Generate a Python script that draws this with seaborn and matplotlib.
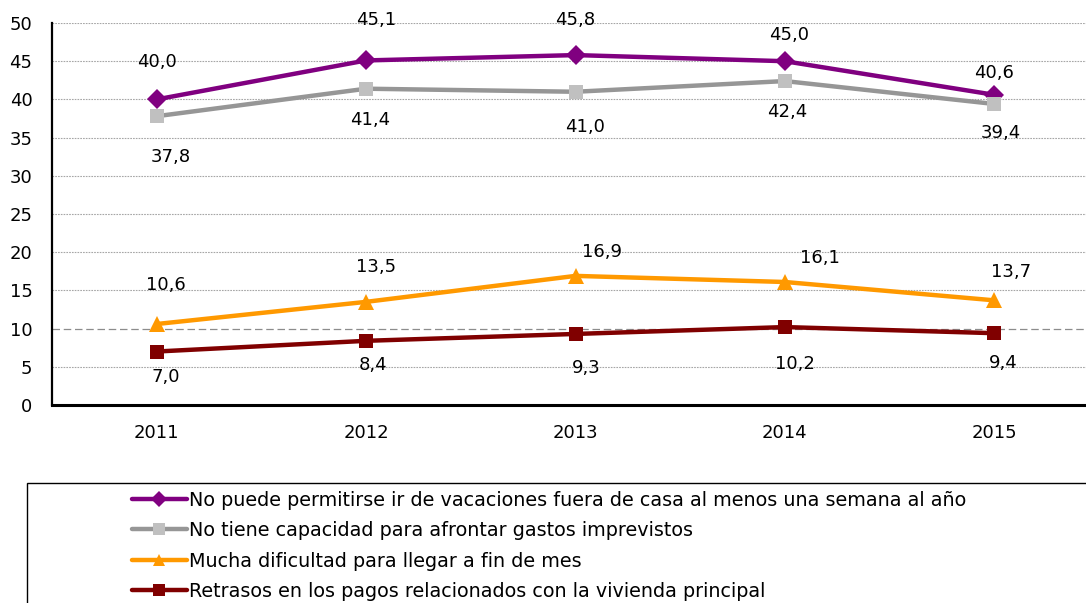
import numpy as np
import pandas as pd
import matplotlib
matplotlib.use("Agg")
import matplotlib.pyplot as plt
import matplotlib.patches as mpatches
import seaborn as sns

# ---- data ----
years = ["2011", "2012", "2013", "2014", "2015"]
vacaciones = [40.0, 45.1, 45.8, 45.0, 40.6]
imprevistos = [37.8, 41.4, 41.0, 42.4, 39.4]
fin_de_mes = [10.6, 13.5, 16.9, 16.1, 13.7]
retrasos = [7.0, 8.4, 9.3, 10.2, 9.4]
labels = [
    "No puede permitirse ir de vacaciones fuera de casa al menos una semana al año",
    "No tiene capacidad para afrontar gastos imprevistos",
    "Mucha dificultad para llegar a fin de mes",
    "Retrasos en los pagos relacionados con la vivienda principal",
]

# ---- style per series (line colour, marker, marker colour, size, label offsets in px) ----
styles = [
    dict(color="#800080", marker="D", mfc="#800080", ms=10,
         offs=[(0, 37), (10, 40), (0, 35), (4, 26), (0, 22)]),
    dict(color="#969696", marker="s", mfc="#C0C0C0", ms=10,
         offs=[(14, -41), (4, -31), (9, -35), (2, -31), (7, -29)]),
    dict(color="#FF9900", marker="^", mfc="#FF9900", ms=11,
         offs=[(9, 39), (10, 35), (27, 24), (35, 24), (17, 28)]),
    dict(color="#800000", marker="s", mfc="#800000", ms=10,
         offs=[(9, -25), (7, -24), (11, -34), (10, -37), (9, -30)]),
]
series = [vacaciones, imprevistos, fin_de_mes, retrasos]

sns.set_style("white")
plt.rcParams["font.family"] = ["DejaVu Sans"]
plt.rcParams["text.color"] = "black"
FS = 13

W, H = 1086, 603
fig = plt.figure(figsize=(W / 100, H / 100), dpi=100)
ax = fig.add_axes([52 / W, 1 - 405 / H, (1099 - 52) / W, (405 - 23) / H])

x = np.arange(len(years))
for vals, lab, st in zip(series, labels, styles):
    df = pd.DataFrame({"x": x, "y": vals})
    sns.lineplot(data=df, x="x", y="y", ax=ax, color=st["color"], lw=3.2,
                 marker=st["marker"], markersize=st["ms"], markerfacecolor=st["mfc"],
                 markeredgecolor=st["mfc"], markeredgewidth=0, label=lab, zorder=3)
    for xi, v, (dx, dy) in zip(x, vals, st["offs"]):
        ax.annotate(f"{v:.1f}".replace(".", ","), (xi, v), xytext=(dx, dy),
                    textcoords="offset pixels", ha="center", va="center",
                    fontsize=FS, color="black", zorder=4)

# gridlines
for g in range(5, 55, 5):
    if g == 10:
        ax.axhline(g, color="#8C8C8C", lw=0.9, ls=(0, (6, 3)), zorder=1)
    else:
        ax.axhline(g, color="#A6A6A6", lw=0.8, ls=(0, (1.5, 1)), zorder=1)

ax.set_xlim(-0.5, 4.5)
ax.set_ylim(0, 50)
ax.set_yticks(range(0, 55, 5))
ax.set_xticks(x)
ax.set_xticklabels(years)
ax.set_xticks(np.arange(-0.5, 4.6, 1), minor=True)
ax.tick_params(axis="x", which="major", length=0, pad=14, labelsize=FS, labelcolor="black")
ax.tick_params(axis="x", which="minor", length=5, width=1, direction="out", color="black")
ax.tick_params(axis="y", length=5, width=1, direction="out", color="black",
               labelsize=FS, pad=9, labelcolor="black")
ax.set_xlabel("")
ax.set_ylabel("")
for s in ["top", "right"]:
    ax.spines[s].set_visible(False)
ax.spines["left"].set_linewidth(1.6)
ax.spines["bottom"].set_linewidth(2.2)
ax.spines["left"].set_color("black")
ax.spines["bottom"].set_color("black")

# legend in a box along the bottom
handles, labs = ax.get_legend_handles_labels()
ax.get_legend().remove()
box = mpatches.Rectangle((27 / W, -0.05), 1.1, 0.05 + 1 - 483 / H, transform=fig.transFigure,
                         facecolor="white", edgecolor="black", lw=1, clip_on=False)
fig.add_artist(box)
leg = fig.legend(handles, labs, loc="upper left", bbox_to_anchor=(122 / W, 1 - 481 / H),
                 bbox_transform=fig.transFigure, frameon=False, fontsize=13.8,
                 handlelength=2.9, handletextpad=0.1, labelspacing=0.6, borderpad=0,
                 markerscale=0.8)
for t in leg.get_texts():
    t.set_color("black")

fig.savefig("out.png", dpi=100)
